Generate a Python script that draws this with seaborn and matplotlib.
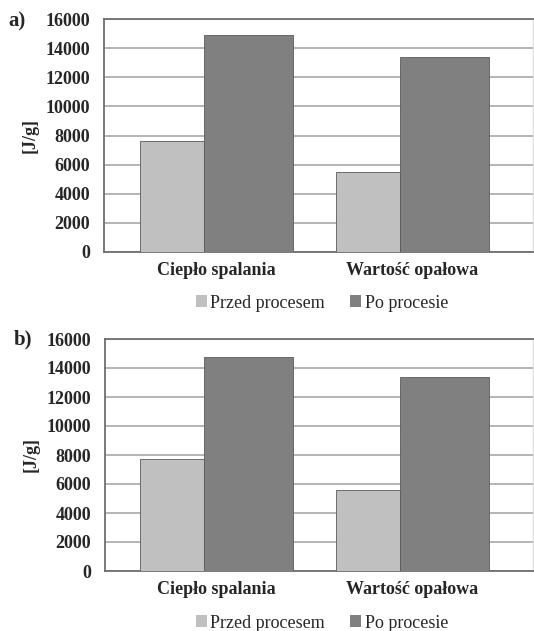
import matplotlib
matplotlib.use("Agg")
import matplotlib.pyplot as plt
import seaborn as sns
import pandas as pd
from matplotlib.patches import Patch

categories = ["Ciepło spalania", "Wartość opałowa"]
series = ["Przed procesem", "Po procesie"]
a_przed = [7650, 5500]
a_po = [14900, 13400]
b_przed = [7750, 5600]
b_po = [14750, 13400]
yticks = [0, 2000, 4000, 6000, 8000, 10000, 12000, 14000, 16000]
panel_labels = ["a)", "b)"]

sns.set_theme(style="white")
plt.rcParams['font.family'] = ['Liberation Serif', 'DejaVu Serif']

colors = ["#c0c0c0", "#808080"]
W, H = 534, 631
fig = plt.figure(figsize=(W / 100, H / 100), dpi=100)

def make_df(przed, po):
    rows = []
    for c, v in zip(categories, przed):
        rows.append({"cat": c, "ser": series[0], "val": v})
    for c, v in zip(categories, po):
        rows.append({"cat": c, "ser": series[1], "val": v})
    return pd.DataFrame(rows)

panels = [(a_przed, a_po, 19, 252, 104), (b_przed, b_po, 339, 571, 105)]
legend_y = [303, 623]
label_pos = [(8, 21), (14, 339)]

for i, (przed, po, ytop, ybot, xl) in enumerate(panels):
    ax = fig.add_axes([xl / W, 1 - ybot / H, (533 - xl) / W, (ybot - ytop) / H])
    df = make_df(przed, po)
    sns.barplot(data=df, x="cat", y="val", hue="ser", palette=colors,
                width=0.78, ax=ax, legend=False, edgecolor="#5a5a5a",
                linewidth=0.6, saturation=1, zorder=3)
    # adjust bar widths to reference look
    for j, cont in enumerate(ax.containers):
        for p in cont.patches:
            if j == 0:
                center = p.get_x() + p.get_width()
                p.set_x(center - 0.39)
                p.set_width(0.326)
            else:
                center = p.get_x()
                p.set_x(center - 0.064)
                p.set_width(0.454)
    ax.set_ylim(0, 16000)
    ax.set_yticks(yticks)
    ax.set_yticklabels([str(t) for t in yticks], fontsize=13, fontweight="bold")
    ax.set_xlim((xl - 216.5) / 196, (533 - 216.5) / 196)
    ax.set_xticks(range(len(categories)))
    ax.set_xticklabels(categories, fontsize=13, fontweight="bold")
    ax.tick_params(axis="y", length=0, pad=10)
    ax.tick_params(axis="x", length=0, pad=7)
    ax.set_xlabel("")
    ax.set_ylabel("[J/g]", fontsize=13, fontweight="bold", labelpad=5)
    ax.yaxis.grid(True, color="#a8a8a8", linewidth=1.2, zorder=0)
    ax.set_axisbelow(True)
    for s in ["top", "left", "bottom"]:
        ax.spines[s].set_color("#6e6e6e")
        ax.spines[s].set_linewidth(1.3)
    ax.spines["right"].set_color("#dcdcdc")
    ax.spines["right"].set_linewidth(1.0)

    handles = [Patch(facecolor=colors[0], edgecolor="none", label=series[0]),
               Patch(facecolor=colors[1], edgecolor="none", label=series[1])]
    fig.legend(handles=handles, loc="center", ncol=2,
               bbox_to_anchor=(322 / W, 1 - legend_y[i] / H), frameon=False,
               prop={"size": 13}, handlelength=0.6, handleheight=0.6,
               handletextpad=0.2, columnspacing=1.4)
    fig.text(label_pos[i][0] / W, 1 - label_pos[i][1] / H, panel_labels[i],
             fontsize=15, fontweight="bold", va="center", ha="left")

fig.savefig("out.png", dpi=100)
